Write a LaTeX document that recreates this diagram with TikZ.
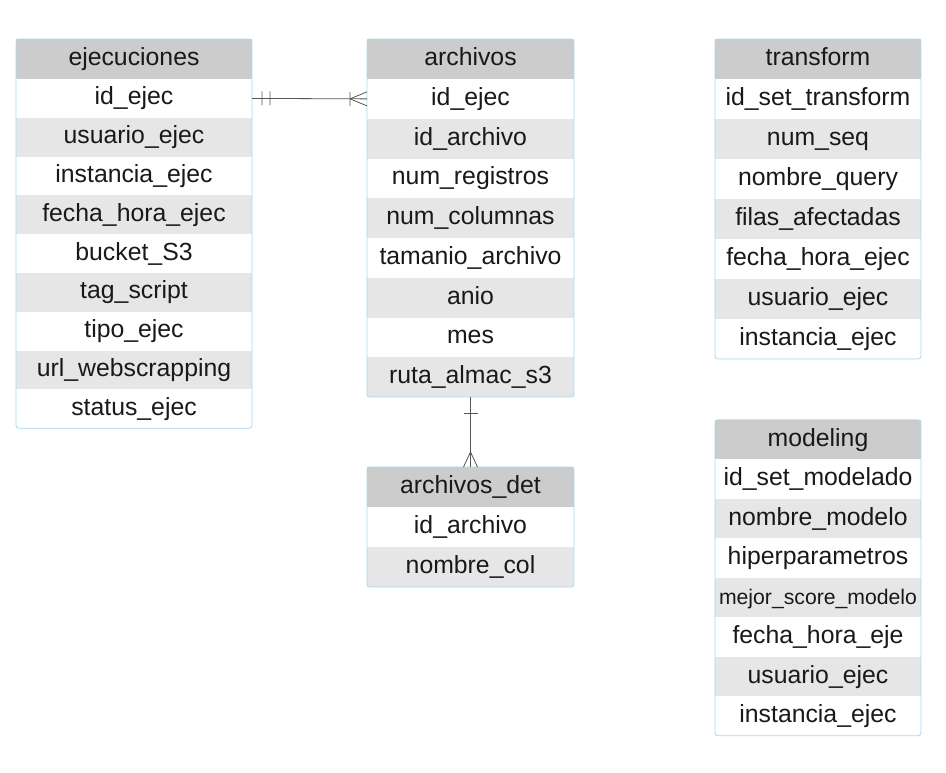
\documentclass[tikz,border=0pt]{standalone}
\usepackage{fontspec}
\setmainfont{Liberation Sans}
\usepackage{tikz}
\usetikzlibrary{positioning,fit,decorations.markings}

\definecolor{hdrgray}{HTML}{CCCCCC}
\definecolor{rowgray}{HTML}{E6E6E6}
\definecolor{tblblue}{HTML}{ABD8EF}
\definecolor{linegray}{HTML}{555555}

\begin{document}
\begin{tikzpicture}[x=1pt, y=-1pt,
    cell/.style={inner sep=0pt, outer sep=0pt, align=center, text=black!90, text height=18pt, text depth=5pt, font=\fontsize{24.8}{29}\selectfont},
    hdr/.style={cell, fill=hdrgray},
    whiterow/.style={cell, fill=white},
    greyrow/.style={cell, fill=rowgray},
    tE/.style={minimum width=236, minimum height=38.8},
    tA/.style={minimum width=207, minimum height=39.75},
    tD/.style={minimum width=207, minimum height=40},
    tT/.style={minimum width=206, minimum height=40},
    tM/.style={minimum width=206, minimum height=39.5},
    tbl/.style={draw=tblblue, line width=0.8pt, rounded corners=3pt, inner sep=0pt},
    rel/.style={draw=linegray, line width=0.8pt},
    bar at/.style={postaction={decorate, decoration={markings, mark=at position #1 with {\draw[rel] (0pt,-7pt) -- (0pt,7pt);}}}},
    crowfoot/.style={postaction={decorate, decoration={markings, mark=at position -#1 with {\draw[rel] (0pt,0pt) -- (#1,7pt) (0pt,0pt) -- (#1,-7pt);}}}}
]
\useasboundingbox (0,0) rectangle (946,772);

% ejecuciones
\node[hdr, tE, minimum height=40] (ejec) at (134,59) {ejecuciones};
\node[whiterow, tE, below=0pt of ejec] (ejec1) {id\_ejec};
\node[greyrow, tE, below=0pt of ejec1] (ejec2) {usuario\_ejec};
\node[whiterow, tE, below=0pt of ejec2] (ejec3) {instancia\_ejec};
\node[greyrow, tE, below=0pt of ejec3] (ejec4) {fecha\_hora\_ejec};
\node[whiterow, tE, below=0pt of ejec4] (ejec5) {bucket\_S3};
\node[greyrow, tE, below=0pt of ejec5] (ejec6) {tag\_script};
\node[whiterow, tE, below=0pt of ejec6] (ejec7) {tipo\_ejec};
\node[greyrow, tE, below=0pt of ejec7] (ejec8) {url\_webscrapping};
\node[whiterow, tE, below=0pt of ejec8] (ejec9) {status\_ejec};
\node[tbl, fit=(ejec)(ejec9)] {};

% archivos
\node[hdr, tA, minimum height=40] (arch) at (470.5,59) {archivos};
\node[whiterow, tA, below=0pt of arch] (arch1) {id\_ejec};
\node[greyrow, tA, below=0pt of arch1] (arch2) {id\_archivo};
\node[whiterow, tA, below=0pt of arch2] (arch3) {num\_registros};
\node[greyrow, tA, below=0pt of arch3] (arch4) {num\_columnas};
\node[whiterow, tA, below=0pt of arch4] (arch5) {tamanio\_archivo};
\node[greyrow, tA, below=0pt of arch5] (arch6) {anio};
\node[whiterow, tA, below=0pt of arch6] (arch7) {mes};
\node[greyrow, tA, below=0pt of arch7] (arch8) {ruta\_almac\_s3};
\node[tbl, fit=(arch)(arch8)] {};

% archivos_det
\node[hdr, tD] (det) at (470.5,487) {archivos\_det};
\node[whiterow, tD, below=0pt of det] (det1) {id\_archivo};
\node[greyrow, tD, below=0pt of det1] (det2) {nombre\_col};
\node[tbl, fit=(det)(det2)] {};

% transform
\node[hdr, tT] (trf) at (818,59) {transform};
\node[whiterow, tT, below=0pt of trf] (trf1) {id\_set\_transform};
\node[greyrow, tT, below=0pt of trf1] (trf2) {num\_seq};
\node[whiterow, tT, below=0pt of trf2] (trf3) {nombre\_query};
\node[greyrow, tT, below=0pt of trf3] (trf4) {filas\_afectadas};
\node[whiterow, tT, below=0pt of trf4] (trf5) {fecha\_hora\_ejec};
\node[greyrow, tT, below=0pt of trf5] (trf6) {usuario\_ejec};
\node[whiterow, tT, below=0pt of trf6] (trf7) {instancia\_ejec};
\node[tbl, fit=(trf)(trf7)] {};

% modeling
\node[hdr, tM] (mod) at (818,439.5) {modeling};
\node[whiterow, tM, below=0pt of mod] (mod1) {id\_set\_modelado};
\node[greyrow, tM, below=0pt of mod1] (mod2) {nombre\_modelo};
\node[whiterow, tM, below=0pt of mod2] (mod3) {hiperparametros};
\node[greyrow, tM, below=0pt of mod3, font=\fontsize{21.2}{25}\selectfont] (mod4) {mejor\_score\_modelo};
\node[whiterow, tM, below=0pt of mod4] (mod5) {fecha\_hora\_eje};
\node[greyrow, tM, below=0pt of mod5] (mod6) {usuario\_ejec};
\node[whiterow, tM, below=0pt of mod6] (mod7) {instancia\_ejec};
\node[tbl, fit=(mod)(mod7)] {};

% relaciones
\draw[rel, bar at=10pt, bar at=18pt, bar at=-17pt, crowfoot=17pt] (ejec1.east) -- (arch1.west);
\draw[rel, bar at=16pt, crowfoot=15pt] (arch8.south) -- (det.north);
\end{tikzpicture}
\end{document}
